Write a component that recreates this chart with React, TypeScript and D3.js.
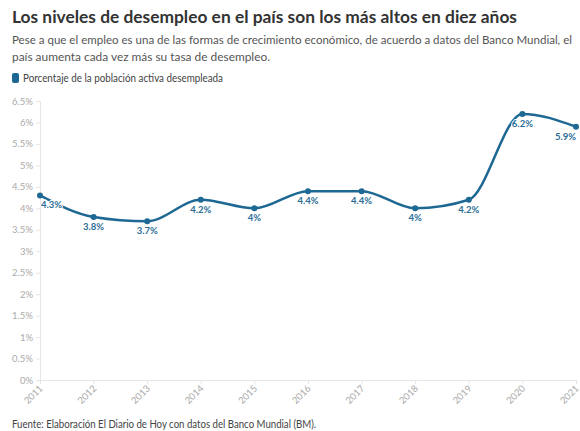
import React, { useEffect, useRef } from "react";
import * as d3 from "d3";

const years = ["2011", "2012", "2013", "2014", "2015", "2016", "2017", "2018", "2019", "2020", "2021"];
const desempleo = [4.3, 3.8, 3.7, 4.2, 4.0, 4.4, 4.4, 4.0, 4.2, 6.2, 5.9];
const yTicks = [0, 0.5, 1, 1.5, 2, 2.5, 3, 3.5, 4, 4.5, 5, 5.5, 6, 6.5];

const FONT = "Lato, 'Open Sans', sans-serif";
const BLUE = "#1e6894";

export default function App() {
  const ref = useRef<SVGSVGElement>(null);

  useEffect(() => {
    const svg = d3.select(ref.current);
    svg.selectAll("*").remove();

    const left = 40, right = 576, top = 101, bottom = 380;

    svg.append("text").attr("x", 12).attr("y", 23)
      .attr("font-size", 17.5).attr("font-weight", 700).attr("fill", "#333")
      .attr("textLength", 505).attr("lengthAdjust", "spacingAndGlyphs")
      .text("Los niveles de desempleo en el país son los más altos en diez años");

    const sub = [
      { t: "Pese a que el empleo es una de las formas de crecimiento económico, de acuerdo a datos del Banco Mundial, el", w: 560 },
      { t: "país aumenta cada vez más su tasa de desempleo.", w: 258 },
    ];
    sub.forEach((s, i) => svg.append("text").attr("x", 12).attr("y", 44 + i * 17)
      .attr("font-size", 11.5).attr("fill", "#555")
      .attr("textLength", s.w).attr("lengthAdjust", "spacingAndGlyphs").text(s.t));

    svg.append("rect").attr("x", 12).attr("y", 73).attr("width", 7).attr("height", 10)
      .attr("rx", 2).attr("fill", BLUE);
    svg.append("text").attr("x", 23).attr("y", 82).attr("font-size", 10.5).attr("fill", "#444")
      .attr("textLength", 200).attr("lengthAdjust", "spacingAndGlyphs")
      .text("Porcentaje de la población activa desempleada");

    const x = d3.scalePoint().domain(years).range([left, right]);
    const y = d3.scaleLinear().domain([0, 6.5]).range([bottom, top]);

    // axes
    const yAxis = svg.append("g").attr("transform", `translate(${left},0)`)
      .call(d3.axisLeft(y).tickValues(yTicks).tickSize(4).tickPadding(3)
        .tickFormat(d => `${d}%`));
    yAxis.select(".domain").attr("stroke", "#e6e6e6");
    yAxis.selectAll(".tick line").attr("stroke", "#e6e6e6");
    yAxis.selectAll("text").attr("fill", "#aaa").attr("font-size", 9.5).attr("font-family", FONT);

    const xAxis = svg.append("g").attr("transform", `translate(0,${bottom})`)
      .call(d3.axisBottom(x).tickSize(4).tickSizeOuter(0));
    xAxis.select(".domain").attr("stroke", "#e6e6e6");
    xAxis.selectAll(".tick line").attr("stroke", "#e6e6e6");
    xAxis.selectAll("text").attr("fill", "#aaa").attr("font-size", 9.5).attr("font-family", FONT)
      .attr("text-anchor", "end").attr("dy", 0).attr("y", 0)
      .attr("transform", "translate(3,9) rotate(-45)");

    const line = d3.line<number>()
      .x((_, i) => x(years[i])!)
      .y(d => y(d))
      .curve(d3.curveMonotoneX);

    svg.append("path").datum(desempleo).attr("d", line)
      .attr("fill", "none").attr("stroke", BLUE).attr("stroke-width", 2.5);

    svg.selectAll("circle.pt").data(desempleo).enter().append("circle")
      .attr("cx", (_, i) => x(years[i])!).attr("cy", d => y(d)).attr("r", 3)
      .attr("fill", BLUE);

    svg.selectAll("text.lbl").data(desempleo).enter().append("text")
      .attr("x", (_, i) => x(years[i])!)
      .attr("y", d => y(d) + 13)
      .attr("text-anchor", (_, i) => i === 0 ? "start" : i === years.length - 1 ? "end" : "middle")
      .attr("dx", (_, i) => i === 0 ? 1 : 0)
      .attr("font-size", 9.5).attr("font-weight", 700).attr("fill", "#2a6d96")
      .attr("paint-order", "stroke").attr("stroke", "#fff").attr("stroke-width", 2)
      .text(d => `${d}%`);

    svg.append("text").attr("x", 12).attr("y", 428).attr("font-size", 10.5).attr("fill", "#444")
      .attr("textLength", 304).attr("lengthAdjust", "spacingAndGlyphs")
      .text("Fuente: Elaboración El Diario de Hoy con datos del Banco Mundial (BM).");
  }, []);

  return (
    <svg ref={ref} width={580} height={431}
      style={{ position: "absolute", left: 0, top: 0, fontFamily: FONT, background: "#fff" }} />
  );
}
